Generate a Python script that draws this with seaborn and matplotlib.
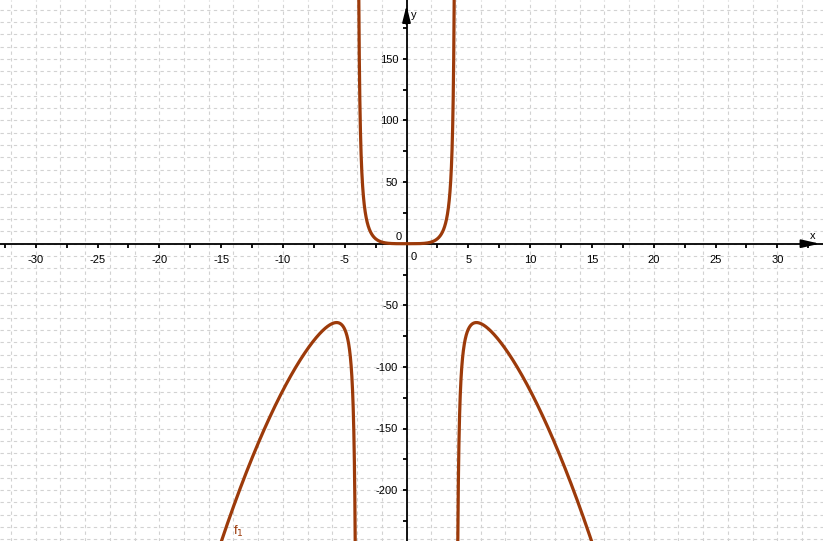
import numpy as np
import pandas as pd
import matplotlib.pyplot as plt
import seaborn as sns

# f1(x) = x^4 / (16 - x^2)  (curve: asymptotes at x=+-4, max -64 at x=+-5.66)
power = 4
asym_sq = 16
branches = [(-33.0, -4.0), (-4.0, 4.0), (4.0, 34.0)]
x_major = [-30, -25, -20, -15, -10, -5, 5, 10, 15, 20, 25, 30]
x_minor = [-32.5, -27.5, -22.5, -17.5, -12.5, -7.5, -2.5, 2.5, 7.5, 12.5, 17.5, 22.5, 27.5, 32.5]
y_major = [-200, -150, -100, -50, 50, 100, 150]
y_minor = [-225, -175, -125, -75, -25, 25, 75, 125, 175]
curve_color = "#9c3a0a"

sns.set_style("white")
plt.rcParams["font.family"] = ["Liberation Sans", "DejaVu Sans"]
plt.rcParams["axes.unicode_minus"] = False
plt.rcParams["text.color"] = "black"

fig = plt.figure(figsize=(8.23, 5.41), dpi=100)
ax = fig.add_axes([0, 0, 1, 1])
x_lo, x_hi = -406.5 / 12.36, (823 - 406.5) / 12.36
y_lo, y_hi = -(541 - 243.7) / 1.232, 243.7 / 1.232
ax.set_xlim(x_lo, x_hi)
ax.set_ylim(y_lo, y_hi)

# grid: every 2 in x, every 10 in y
for gx in np.arange(-32, 34, 2):
    ax.axvline(gx, color="#d2d2d2", lw=0.8, ls=(0, (3, 3)), zorder=0)
for gy in np.arange(-240, 200, 10):
    ax.axhline(gy, color="#d2d2d2", lw=0.8, ls=(0, (3, 3)), zorder=0)

for a, b in branches:
    eps = 1e-4
    xs = np.linspace(a + eps, b - eps, 4000)
    ys = xs ** power / (asym_sq - xs ** 2)
    ys = np.clip(ys, -2000, 2000)
    df = pd.DataFrame({"x": xs, "y": ys})
    sns.lineplot(data=df, x="x", y="y", ax=ax, color=curve_color, lw=2.3,
                 estimator=None, sort=False, zorder=3)

ax.set_xlabel("")
ax.set_ylabel("")

# axes through origin
for s in ["top", "right"]:
    ax.spines[s].set_visible(False)
for s in ["left", "bottom"]:
    ax.spines[s].set_position(("data", 0))
    ax.spines[s].set_linewidth(1.3)
    ax.spines[s].set_color("black")
    ax.spines[s].set_zorder(2)

ax.set_xticks(x_major)
ax.set_xticks(x_minor, minor=True)
ax.set_yticks(y_major)
ax.set_yticks(y_minor, minor=True)
ax.tick_params(which="both", direction="out", length=3, width=1.3, color="black",
               labelcolor="black", labelsize=8, pad=3, bottom=True, left=True)
ax.tick_params(axis="x", pad=5)
ax.set_xlim(x_lo, x_hi)
ax.set_ylim(y_lo, y_hi)

# arrow heads
ax.annotate("", xy=(0.9995, 0), xycoords=("axes fraction", "data"),
            xytext=(0.97, 0), textcoords=("axes fraction", "data"),
            arrowprops=dict(arrowstyle="-|>,head_length=1.1,head_width=0.25",
                            color="black", lw=1.3))
ax.annotate("", xy=(0, 0.995), xycoords=("data", "axes fraction"),
            xytext=(0, 0.95), textcoords=("data", "axes fraction"),
            arrowprops=dict(arrowstyle="-|>,head_length=1.0,head_width=0.25",
                            color="black", lw=1.3))

ax.text(32.9, 2.5, "x", fontsize=8, ha="center", va="bottom")
ax.text(0.4, 186, "y", fontsize=8, ha="left", va="center")
ax.text(-0.4, 1.2, "0", fontsize=8, ha="right", va="bottom")
ax.text(0.6, -6.5, "0", fontsize=8, ha="center", va="top")
ax.text(-14.0, -236, "f$_1$", fontsize=9.5, color=curve_color, ha="left", va="baseline")

fig.savefig("out.png", dpi=100)
